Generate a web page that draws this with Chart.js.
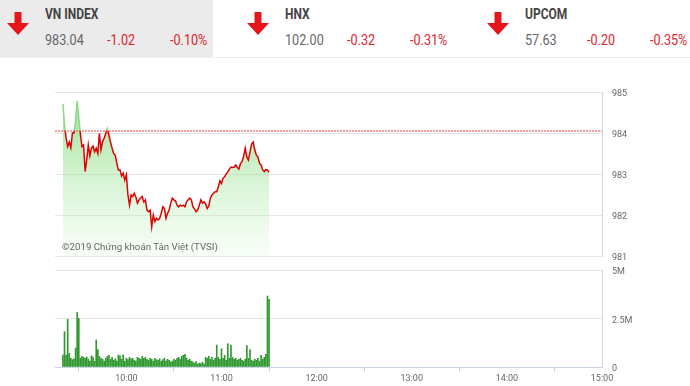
<!DOCTYPE html>
<html>
<head>
<meta charset="utf-8">
<script src="https://cdn.jsdelivr.net/npm/chart.js@4"></script>
<style>
  body { margin: 0; width: 690px; height: 386px; background: #fff; overflow: hidden; position: relative;
         font-family: "Roboto", sans-serif; }
  .hdr { position: absolute; left: 0; top: 0; width: 690px; height: 57px; border-bottom: 1px solid #eee; }
  .box { position: absolute; top: 0; height: 57px; }
  .box.active { background: #ebebeb; }
  .box svg { position: absolute; left: 6px; top: 12px; }
  .name { position: absolute; left: 45px; top: 5px; font-size: 15px; font-weight: bold; color: #444;
          transform: scaleX(0.8); transform-origin: left center; white-space: nowrap; }
  .val { position: absolute; top: 32px; font-size: 14px; color: #666;
         transform: scaleX(0.9); transform-origin: left center; white-space: nowrap; }
  .down { color: #e0232b; }
  #priceWrap { position: absolute; left: 0; top: 80px; }
  #volWrap { position: absolute; left: 0; top: 260px; }
  .copy { position: absolute; left: 62px; top: 241px; font-size: 9.7px; color: #666; }
</style>
</head>
<body>
<div class="hdr" id="hdr"></div>
<div id="priceWrap"><canvas id="priceChart" width="690" height="185"></canvas></div>
<div id="volWrap"><canvas id="volChart" width="690" height="126"></canvas></div>
<div class="copy">©2019 Chứng khoán Tân Việt (TVSI)</div>
<script>
// header indices
const indexNames = ['VN INDEX', 'HNX', 'UPCOM'];
const indexValues = ['983.04', '102.00', '57.63'];
const indexChanges = ['-1.02', '-0.32', '-0.20'];
const indexPercents = ['-0.10%', '-0.31%', '-0.35%'];

// intraday series, one value per minute from 9:20
const startTime = '9:20';
const refPrice = 984.06;
const priceValues = [
  984.71, 984.20, 983.88, 983.67, 983.78, 983.64, 984.00, 984.00, 984.32, 984.78,
  984.37, 983.98, 983.67, 983.71, 983.06, 983.34, 983.71, 983.44, 983.63, 983.68,
  983.54, 983.63, 983.50, 983.99, 983.59, 983.79, 983.87, 983.99, 984.11, 983.95,
  983.78, 983.63, 983.50, 983.46, 983.26, 983.10, 983.10, 982.95, 983.02, 982.85,
  982.98, 982.49, 982.24, 982.49, 982.45, 982.53, 982.44, 982.29, 982.37, 982.41,
  982.45, 982.32, 982.37, 982.12, 982.08, 982.12, 981.71, 982.00, 981.84, 981.92,
  981.88, 981.92, 982.04, 982.20, 982.16, 981.92, 982.04, 982.12, 982.29, 982.41,
  982.37, 982.34, 982.24, 982.20, 982.24, 982.22, 982.24, 982.20, 982.32, 982.37,
  982.41, 982.37, 982.20, 982.15, 982.08, 982.12, 982.24, 982.37, 982.29, 982.32,
  982.27, 982.16, 982.22, 982.41, 982.49, 982.53, 982.57, 982.57, 982.68, 982.83,
  982.77, 982.90, 982.93, 983.00, 983.05, 983.12, 983.17, 983.16, 983.17, 983.22,
  983.16, 983.12, 983.26, 983.30, 983.44, 983.63, 983.41, 983.34, 983.54, 983.73,
  983.78, 983.59, 983.46, 983.41, 983.26, 983.22, 983.10, 983.06, 983.11, 983.10,
  983.04
];
// volume in millions of shares
const volumeValues = [
  0.62, 1.82, 0.62, 2.46, 0.70, 0.45, 0.38, 0.42, 0.98, 2.82,
  2.50, 0.45, 0.55, 0.50, 0.45, 0.52, 0.40, 0.30, 0.58, 0.50,
  0.30, 1.39, 0.90, 0.55, 0.45, 0.40, 0.30, 0.45, 0.55, 0.60,
  0.40, 0.50, 0.35, 0.42, 0.30, 0.62, 0.58, 0.40, 0.62, 0.30,
  0.45, 0.38, 0.50, 0.42, 0.45, 0.35, 0.30, 0.50, 0.45, 0.40,
  0.55, 0.45, 0.50, 0.40, 0.35, 0.45, 0.40, 0.30, 0.45, 0.38,
  0.35, 0.42, 0.30, 0.38, 0.45, 0.30, 0.40, 0.35, 0.25, 0.30,
  0.40, 0.35, 0.45, 0.50, 0.40, 0.55, 0.60, 0.65, 0.45, 0.35,
  0.40, 0.30, 0.25, 0.20, 0.28, 0.15, 0.20, 0.18, 0.25, 0.15,
  0.50, 0.45, 0.55, 0.40, 0.50, 0.35, 0.45, 1.13, 0.50, 0.40,
  0.94, 0.45, 0.60, 0.35, 1.20, 0.45, 1.13, 0.50, 0.40, 0.45,
  0.35, 0.40, 0.45, 0.35, 0.30, 0.40, 1.10, 0.45, 0.90, 0.35,
  0.30, 0.40, 0.35, 0.45, 0.30, 0.60, 0.40, 0.50, 0.65, 3.66,
  3.49
];

const priceTicks = [981, 982, 983, 984, 985];
const volumeTicks = [0, 2.5, 5];
const volumeTickLabels = ['0', '2.5M', '5M'];
const timeTickLabels = ['10:00', '11:00', '12:00', '13:00', '14:00', '15:00'];
const axisStart = '9:15';
const axisEnd = '15:00';

function toMin(t) { const p = t.split(':'); return +p[0] * 60 + +p[1]; }
function fmtMin(m) { return Math.floor(m / 60) + ':' + String(m % 60).padStart(2, '0'); }

const t0 = toMin(startTime);
const pricePoints = priceValues.map((v, i) => ({ x: t0 + i, y: v }));
const volumePoints = volumeValues.map((v, i) => ({ x: t0 + i, y: v }));

// header
const boxLefts = [0, 240, 480];
const boxWidths = [213, 240, 210];
const hdr = document.getElementById('hdr');
indexNames.forEach((n, i) => {
  const b = document.createElement('div');
  b.className = 'box' + (i === 0 ? ' active' : '');
  b.style.left = boxLefts[i] + 'px';
  b.style.width = boxWidths[i] + 'px';
  b.innerHTML = `
    <svg width="24" height="24" viewBox="0 0 24 24"><path d="M8.5 0h7v11h7.5L12 23 1 11h7.5z" fill="#e8141c"/></svg>
    <div class="name">${n}</div>
    <div class="val" style="left:45px">${indexValues[i]}</div>
    <div class="val down" style="left:107px">${indexChanges[i]}</div>
    <div class="val down" style="left:170px">${indexPercents[i]}</div>`;
  hdr.appendChild(b);
});

const tickFont = { family: 'Roboto', size: 9 };
const gridColor = '#e6e6e6';
const axisColor = '#ccd6eb';

const xCommon = {
  type: 'linear',
  min: toMin(axisStart),
  max: toMin(axisEnd),
  offset: false
};

// keep the plot areas of both charts lined up
function fixedWidth(scale) {
  scale.width = 88;
  scale.paddingTop = 0;
  scale.paddingBottom = 0;
}

const refLinePlugin = {
  id: 'refLine',
  afterDatasetsDraw(chart) {
    const { ctx, chartArea, scales } = chart;
    const y = Math.round(scales.y.getPixelForValue(refPrice));
    ctx.save();
    ctx.strokeStyle = '#f03c3c';
    ctx.lineWidth = 1.2;
    ctx.setLineDash([2, 1]);
    ctx.beginPath();
    ctx.moveTo(chartArea.left, y);
    ctx.lineTo(chartArea.right, y);
    ctx.stroke();
    ctx.restore();
  }
};

function lineColor(context) {
  const { chart } = context;
  const { chartArea, scales } = chart;
  if (!chartArea) return '#e00';
  const y = scales.y.getPixelForValue(refPrice);
  const s = Math.min(1, Math.max(0, (y - chartArea.top) / (chartArea.bottom - chartArea.top)));
  const g = chart.ctx.createLinearGradient(0, chartArea.top, 0, chartArea.bottom);
  g.addColorStop(0, '#8ed889');
  g.addColorStop(s, '#8ed889');
  g.addColorStop(s, '#e00000');
  g.addColorStop(1, '#e00000');
  return g;
}

function fillColor(context) {
  const { chart } = context;
  const { chartArea } = chart;
  if (!chartArea) return 'rgba(140,220,130,0.5)';
  const g = chart.ctx.createLinearGradient(0, chartArea.top, 0, chartArea.bottom);
  g.addColorStop(0, 'rgba(125,215,115,0.8)');
  g.addColorStop(1, 'rgba(190,240,185,0.12)');
  return g;
}

new Chart(document.getElementById('priceChart'), {
  type: 'line',
  data: {
    datasets: [{
      data: pricePoints,
      borderColor: lineColor,
      backgroundColor: fillColor,
      borderWidth: 1.5,
      pointRadius: 0,
      tension: 0,
      fill: 'start'
    }]
  },
  options: {
    responsive: false,
    animation: false,
    devicePixelRatio: 1,
    layout: { padding: { left: 55, top: 12, bottom: 9, right: 0 } },
    plugins: { legend: { display: false }, tooltip: { enabled: false } },
    scales: {
      x: Object.assign({ display: false }, xCommon),
      y: {
        position: 'right',
        min: 981, max: 985,
        afterFit: fixedWidth,
        afterBuildTicks: s => { s.ticks = priceTicks.map(v => ({ value: v })); },
        grid: { color: gridColor, drawTicks: false },
        border: { display: true, color: axisColor },
        ticks: { font: tickFont, color: '#666', padding: 10, labelOffset: 2 }
      }
    }
  },
  plugins: [refLinePlugin]
});

new Chart(document.getElementById('volChart'), {
  type: 'bar',
  data: {
    datasets: [{
      data: volumePoints,
      backgroundColor: '#2f982f',
      barThickness: 1
    }]
  },
  options: {
    responsive: false,
    animation: false,
    devicePixelRatio: 1,
    layout: { padding: { left: 55, top: 10, bottom: 0, right: 0 } },
    plugins: { legend: { display: false }, tooltip: { enabled: false } },
    scales: {
      x: Object.assign({
        afterFit: s => { s.height = 19; },
        afterBuildTicks: s => { s.ticks = timeTickLabels.map(t => ({ value: toMin(t) })); },
        grid: { drawOnChartArea: false, color: axisColor, tickLength: 5 },
        border: { display: true, color: axisColor },
        ticks: { font: tickFont, color: '#666', padding: 1, maxRotation: 0, autoSkip: false,
                 callback: v => fmtMin(v) }
      }, xCommon),
      y: {
        position: 'right',
        min: 0, max: 5,
        afterFit: fixedWidth,
        afterBuildTicks: s => { s.ticks = volumeTicks.map(v => ({ value: v })); },
        grid: { color: gridColor, drawTicks: false },
        border: { display: true, color: axisColor },
        ticks: { font: tickFont, color: '#666', padding: 10, labelOffset: 2,
                 callback: v => volumeTickLabels[volumeTicks.indexOf(v)] }
      }
    }
  }
});
</script>
</body>
</html>
